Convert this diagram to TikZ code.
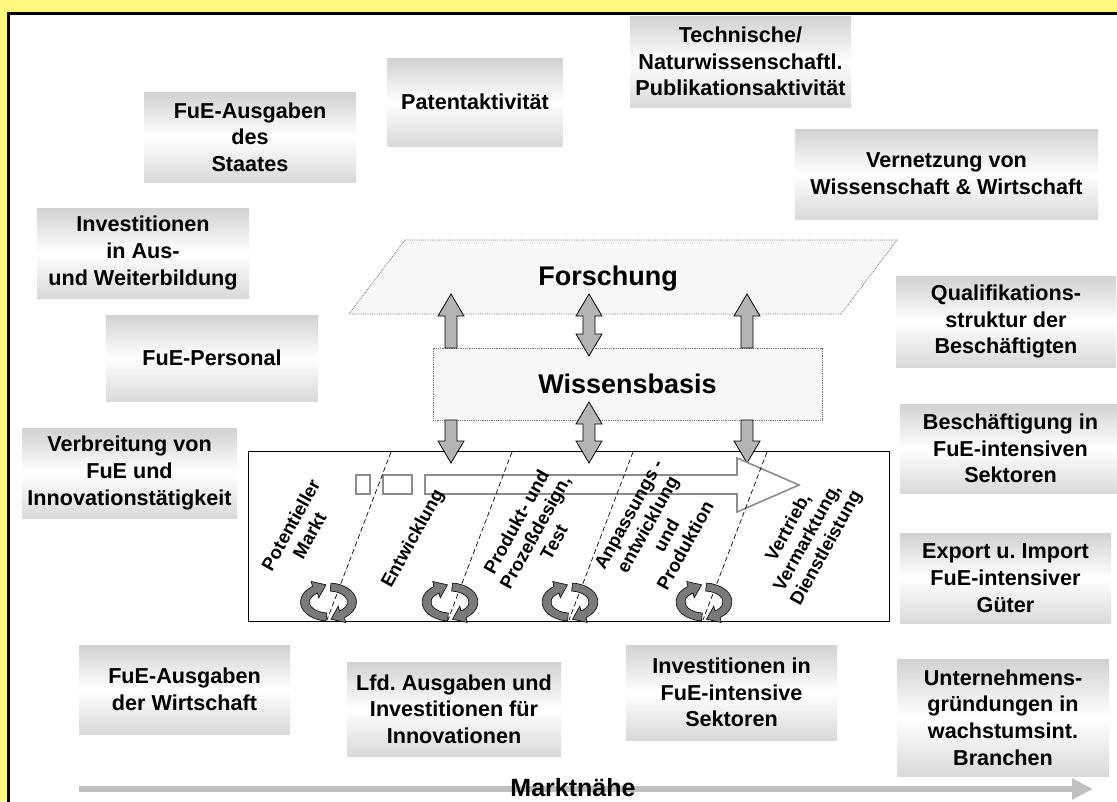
\documentclass[tikz,border=0pt]{standalone}
\usepackage{fontspec}
\setmainfont{Liberation Sans}
\usetikzlibrary{arrows.meta,calc}
\definecolor{bgyellow}{HTML}{FFF980}
\definecolor{arrgray}{HTML}{B4B4B4}
\definecolor{procgray}{HTML}{8C8C8C}
\definecolor{cycgray}{HTML}{7A7A7A}
\definecolor{marktgray}{HTML}{C0C0C0}
\frenchspacing
\newcommand{\sarrow}[3]{% x, tail y, tip y
  \pgfmathsetmacro{\hb}{#3-22*sign(#3-#2)}%
  \draw[barrow] (#1-6,#2) -- (#1-6,\hb) -- (#1-13,\hb) -- (#1,#3) -- (#1+13,\hb) -- (#1+6,\hb) -- (#1+6,#2) -- cycle;}
\newcommand{\darrow}[3]{% x, top tip y, bottom tip y
  \draw[barrow] (#1,#2) -- (#1+13,#2+22) -- (#1+6,#2+22) -- (#1+6,#3-22) -- (#1+13,#3-22) -- (#1,#3)
     -- (#1-13,#3-22) -- (#1-6,#3-22) -- (#1-6,#2+22) -- (#1-13,#2+22) -- cycle;}
\newcommand{\cycpiece}{%
  \draw[cyc] (265:28 and 19) arc[start angle=265, end angle=125, x radius=28, y radius=19]
     -- (-17.2,20.5) -- (-2.5,17.2) -- (-9.8,4.1) -- (125:19 and 11)
     arc[start angle=125, end angle=265, x radius=19, y radius=11] -- cycle;}
\newcommand{\cycicon}[2]{%
  \begin{scope}[shift={(#1,#2)}, y=1pt]
    \cycpiece
    \begin{scope}[rotate=180]\cycpiece\end{scope}
  \end{scope}}
\tikzset{
  ind/.style={font=\fontsize{21.6}{26.7}\selectfont\bfseries, align=center, inner sep=0pt,
    top color=black!18, bottom color=black!15, middle color=white,
    minimum width=212pt, minimum height=90pt},
  bigtext/.style={font=\fontsize{27}{32}\selectfont\bfseries, inner sep=0pt},
  layer/.style={draw=black!55, densely dotted, fill=black!3, line width=0.8pt},
  barrow/.style={draw=black, fill=arrgray, line width=0.8pt, line join=miter},
  procarrow/.style={draw=procgray, line width=1.6pt, fill=white},
  dashline/.style={dash pattern=on 5pt off 3pt, line width=0.7pt},
  phase/.style={font=\fontsize{18.5}{21.5}\selectfont\bfseries, align=center, rotate=61, inner sep=0pt},
  cyc/.style={draw=black, fill=cycgray, line width=0.6pt},
}
\begin{document}
\begin{tikzpicture}[x=1pt,y=-1pt]
\useasboundingbox (0,0) rectangle (1117,801);
\clip (0,0) rectangle (1117,801);
\fill[bgyellow] (0,0) rectangle (1117,801);
\draw[line width=3pt, fill=white] (8.5,13.5) rectangle (1140,830);

% indicator boxes
\node[ind] (staat) at (250,137) {FuE-Ausgaben\\des\\Staates};
\node[ind, minimum width=175pt, minimum height=88pt] (patent) at (475,102) {Patentaktivität};
\node[ind, minimum width=221pt, minimum height=91pt] (publ) at (740.5,61.5) {Technische/\\Naturwissenschaftl.\\Publikationsaktivität};
\node[ind, minimum width=303pt] (vernetz) at (946.5,174) {Vernetzung von\\Wissenschaft \& Wirtschaft};
\node[ind] (bildung) at (143,253) {Investitionen\\in Aus-\\und Weiterbildung};
\node[ind, minimum height=86pt] (personal) at (212,358) {FuE-Personal};
\node[ind, minimum width=220pt, minimum height=91pt] (qual) at (1006,321.5) {Qualifikations-\\struktur der\\Beschäftigten};
\node[ind, minimum width=221pt, minimum height=89pt] (besch) at (1010.5,448.5) {Beschäftigung in\\FuE-intensiven\\Sektoren};
\node[ind, minimum width=211pt] (export) at (1005.5,578) {Export u. Import\\FuE-intensiver\\Güter};
\node[ind, minimum height=117pt] (gruend) at (1003,717.5) {Unternehmens-\\gründungen in\\wachstumsint.\\Branchen};
\node[ind, minimum width=215pt] (verbr) at (129.5,473) {Verbreitung von\\FuE und\\Innovationstätigkeit};
\node[ind, minimum width=211pt, minimum height=89pt] (wirt) at (184.5,689.5) {FuE-Ausgaben\\der Wirtschaft};
\node[ind, minimum width=214pt, minimum height=94pt] (lfd) at (454,709) {Lfd. Ausgaben und\\Investitionen für\\Innovationen};
\node[ind, minimum width=211pt, minimum height=95pt] (invsek) at (731.5,692.5) {Investitionen in\\FuE-intensive\\Sektoren};

% Forschung layer
\draw[layer] (405,240) -- (897,240) -- (841,314) -- (349,314) -- cycle;
\node[bigtext, anchor=base] (forschung) at (608,285) {Forschung};
% Wissensbasis
\node[layer, bigtext, minimum width=389pt, minimum height=72pt] (wissen) at (627.5,384) {Wissensbasis};
% process box
\node[draw, line width=0.8pt, minimum width=641pt, minimum height=170pt, inner sep=0pt] (proc) at (568.5,536) {};

% block arrows
\sarrow{451}{348}{294}
\darrow{589}{294}{356}
\sarrow{747}{348}{294}
\sarrow{451}{420}{463}
\darrow{589}{402}{463}
\sarrow{747}{420}{463}

% process arrow
\draw[procarrow] (356,475) rectangle (370,494);
\draw[procarrow] (383,475) rectangle (412,494);
\draw[procarrow] (425,475) -- (737,475) -- (737,458) -- (799,485) -- (737,512) -- (737,494) -- (425,494) -- cycle;

% phase separators
\draw[dashline] (391,452) -- (327,620);
\draw[dashline] (512,452) -- (448,620);
\draw[dashline] (633,452) -- (569,620);
\draw[dashline] (767,452) -- (703,620);

% phase labels
\node[phase] (p1) at (300,530) {Potentieller\\Markt};
\node[phase] (p2) at (413.5,539) {Entwicklung};
\node[phase] (p3) at (535,532) {Produkt- und\\Prozeßdesign,\\Test};
\node[phase] (p4) at (657,530) {Anpassungs -\\entwicklung\\und\\Produktion};
\node[phase] (p5) at (808,538) {Vertrieb,\\Vermarktung,\\Dienstleistung};

% cycle icons
\cycicon{328.5}{602}
\cycicon{450}{602}
\cycicon{570}{602}
\cycicon{704}{602}

% Marktnaehe axis
\coordinate (ma) at (79,789);
\coordinate (mb) at (1093,789);
\draw[marktgray, line width=6pt, -{Triangle[length=21pt,width=20pt]}] (ma) -- (mb);
\node[font=\fontsize{25}{29}\selectfont\bfseries, inner sep=0pt] (markt) at (573,788) {Marktnähe};
\end{tikzpicture}
\end{document}
